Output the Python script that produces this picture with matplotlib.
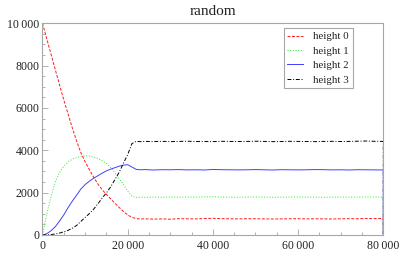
import matplotlib
matplotlib.use("Agg")
import matplotlib.pyplot as plt
import matplotlib.ticker as ticker

# sample positions (steps)
steps = [
    0, 1000, 2000, 3000, 4000, 5000, 6000, 7000, 8000, 9000, 10000, 11000,
    12000, 13000, 14000, 15000, 16000, 17000, 18000, 19000, 20000, 21000,
    22000, 23000, 24000,
    26000, 28000, 30000, 32000, 34000, 36000, 38000, 40000, 42000, 44000,
    46000, 48000, 50000, 52000, 54000, 56000, 58000, 60000, 62000, 64000,
    66000, 68000, 70000, 72000, 74000, 76000, 78000, 80000, 80000,
]

height0 = [
    10000, 9270, 8540, 7810, 7090, 6380, 5720, 5060, 4440, 3890, 3460, 3090,
    2730, 2410, 2140, 1920, 1710, 1500, 1300, 1110, 950, 830,
    775, 755, 765,
    750, 760, 745, 770, 765, 760, 775, 790, 770, 765,
    760, 770, 765, 760, 755, 760, 765, 770, 760, 765,
    760, 755, 765, 770, 765, 780, 775, 780, 0,
]

height1 = [
    0, 980, 1820, 2500, 2960, 3250, 3450, 3580, 3660, 3720, 3740, 3730,
    3680, 3610, 3520, 3380, 3180, 2930, 2660, 2380, 2070, 1830,
    1770, 1790, 1780,
    1790, 1780, 1800, 1785, 1790, 1795, 1800, 1810, 1790, 1785,
    1780, 1790, 1795, 1790, 1780, 1785, 1790, 1800, 1790, 1785,
    1780, 1790, 1795, 1785, 1790, 1800, 1795, 1790, 0,
]

height2 = [
    0, 60, 200, 390, 660, 950, 1290, 1600, 1880, 2170, 2380, 2540,
    2680, 2800, 2920, 3030, 3110, 3180, 3250, 3300, 3320, 3210,
    3100, 3080, 3090,
    3070, 3085, 3080, 3090, 3075, 3080, 3070, 3095, 3085, 3080,
    3075, 3080, 3090, 3080, 3070, 3085, 3080, 3075, 3080, 3090,
    3085, 3075, 3080, 3070, 3085, 3080, 3075, 3070, 0,
]

height3 = [
    0, 5, 20, 50, 90, 150, 220, 320, 450, 640, 830, 1010,
    1220, 1470, 1740, 1990, 2270, 2620, 2960, 3390, 3800, 4320,
    4420, 4410, 4420,
    4415, 4425, 4410, 4420, 4430, 4415, 4420, 4410, 4425, 4420,
    4415, 4420, 4430, 4420, 4410, 4415, 4425, 4420, 4415, 4410,
    4420, 4425, 4415, 4420, 4430, 4440, 4425, 4420, 0,
]

x_ticks = [0, 20000, 40000, 60000, 80000]
y_ticks = [0, 2000, 4000, 6000, 8000, 10000]


def fmt(v, pos=None):
    v = int(round(v))
    if abs(v) >= 10000:
        return f"{v:,}".replace(",", "\u2009")
    return str(v)


plt.rcParams["font.family"] = ["Liberation Serif", "DejaVu Serif"]

fig = plt.figure(figsize=(4.15, 2.6), dpi=100)
ax = fig.add_axes([0.1024, 0.0962, 0.8212, 0.8142])

lw = 0.7
ax.plot(steps, height0, color=(1, 0.1, 0.1), lw=lw, dashes=(3, 1.6), label="height 0")
ax.plot(steps, height1, color=(0.1, 0.95, 0.1), lw=lw, dashes=(1, 1.8), label="height 1")
ax.plot(steps, height2, color=(0.25, 0.25, 1), lw=lw, label="height 2")
ax.plot(steps, height3, color=(0, 0, 0), lw=lw, dashes=(4, 1.8, 1, 1.8), label="height 3")

ax.set_xlim(0, 80000)
ax.set_ylim(0, 10000)

frame = "#a6a6a6"
for side in ["left", "right", "top", "bottom"]:
    ax.spines[side].set_color(frame)
    ax.spines[side].set_linewidth(0.8)

ax.set_xticks(x_ticks)
ax.set_yticks(y_ticks)
ax.xaxis.set_minor_locator(ticker.MultipleLocator(5000))
ax.yaxis.set_minor_locator(ticker.MultipleLocator(500))
ax.xaxis.set_major_formatter(ticker.FuncFormatter(fmt))
ax.yaxis.set_major_formatter(ticker.FuncFormatter(fmt))
ax.tick_params(which="both", direction="in", color=frame, width=0.6,
               top=False, right=False, labelsize=8.5, labelcolor="#222222")
ax.tick_params(which="major", length=4)
ax.tick_params(which="minor", length=2.2)
ax.tick_params(axis="y", pad=2)
ax.tick_params(axis="x", pad=3.5)

ax.set_title("random", fontsize=11, pad=6, color="#222222")

leg = ax.legend(loc="upper right", bbox_to_anchor=(0.911, 0.978),
                borderaxespad=0, fancybox=False, fontsize=7.8,
                handlelength=1.4, handletextpad=1.0, labelspacing=0.45,
                borderpad=0.35, framealpha=1)
leg.get_frame().set_edgecolor(frame)
leg.get_frame().set_linewidth(0.8)
for t in leg.get_texts():
    t.set_color("#222222")

fig.savefig("out.png", dpi=100)
